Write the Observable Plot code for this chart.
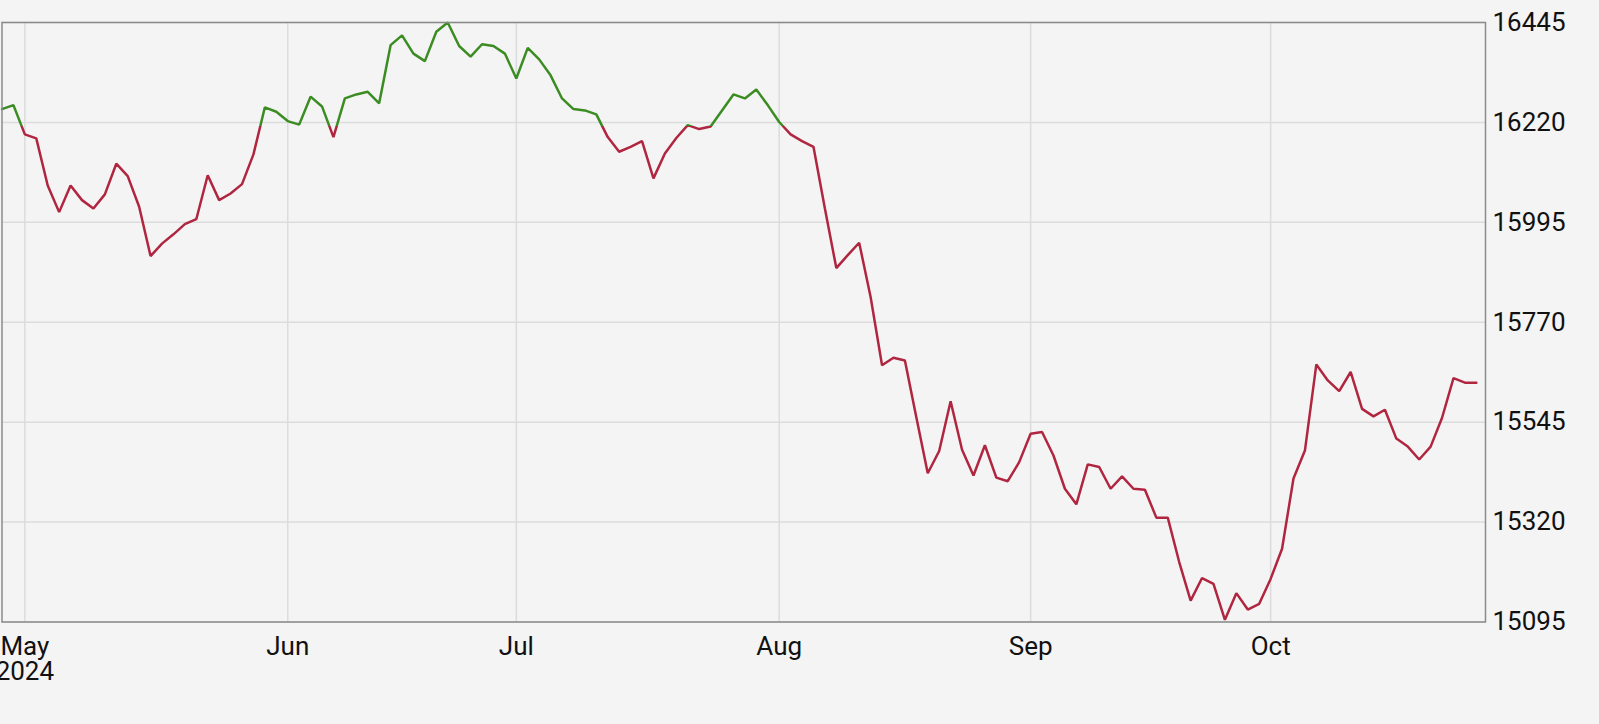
<!DOCTYPE html>
<html>
<head>
<meta charset="utf-8">
<script src="https://cdn.jsdelivr.net/npm/d3@7"></script>
<script src="https://cdn.jsdelivr.net/npm/@observablehq/plot@0.6"></script>
<style>
  html, body { margin: 0; padding: 0; background: #f4f4f4; }
  #chart { width: 1599px; height: 724px; overflow: hidden; }
</style>
</head>
<body>
<div id="chart"></div>
<script>
// Daily closes (trading days from Apr 29, 2024 to Oct 25, 2024)
const values = [
  16250, 16259, 16193, 16184, 16078, 16018, 16078, 16045, 16026, 16058,
  16127, 16099, 16030, 15919, 15947, 15968, 15991, 16002, 16101, 16045,
  16060, 16081, 16148, 16254, 16244, 16223, 16215, 16278, 16256, 16187,
  16274, 16283, 16289, 16263, 16394, 16416, 16375, 16358, 16424, 16445,
  16392, 16368, 16396, 16392, 16375, 16319, 16388, 16362, 16326, 16274,
  16250, 16247, 16238, 16187, 16154, 16165, 16178, 16094, 16150, 16185,
  16214, 16205, 16211, 16247, 16283, 16274, 16294, 16259, 16221, 16193,
  16178, 16165, 16026, 15892, 15921, 15949, 15827, 15673, 15690, 15684,
  15556, 15430, 15480, 15592, 15483, 15425, 15493, 15420, 15412, 15455,
  15519, 15523, 15470, 15395, 15360, 15450, 15444, 15395, 15423, 15395,
  15393, 15330, 15330, 15230, 15143, 15194, 15181, 15100, 15160, 15123,
  15136, 15192, 15260, 15418, 15481, 15675, 15639, 15615, 15658, 15575,
  15558, 15573, 15508, 15490, 15461, 15490, 15555, 15644, 15634, 15634
];
// first trading day of each month (index into values) and its label
const monthTickIndex = [2, 25, 45, 68, 90, 111];
const monthTickLabels = ["May\n2024", "Jun", "Jul", "Aug", "Sep", "Oct"];
const yTicks = [15095, 15320, 15545, 15770, 15995, 16220, 16445];
const threshold = 16212;
const upColor = "#3b8c22";
const downColor = "#b02640";

const data = values.map((v, i) => ({i, v}));

function gradientDefs(index, scales, values, dimensions) {
  const ns = "http://www.w3.org/2000/svg";
  const g = document.createElementNS(ns, "g");
  const defs = document.createElementNS(ns, "defs");
  const lg = document.createElementNS(ns, "linearGradient");
  lg.setAttribute("id", "lineGrad");
  lg.setAttribute("gradientUnits", "userSpaceOnUse");
  const top = dimensions.marginTop;
  const bottom = dimensions.height - dimensions.marginBottom;
  lg.setAttribute("x1", 0); lg.setAttribute("x2", 0);
  lg.setAttribute("y1", top); lg.setAttribute("y2", bottom);
  const yt = scales.y(threshold);
  const off = Math.max(0, Math.min(1, (yt - top) / (bottom - top)));
  [[0, upColor], [off, upColor], [off, downColor], [1, downColor]].forEach(([o, c]) => {
    const s = document.createElementNS(ns, "stop");
    s.setAttribute("offset", o);
    s.setAttribute("stop-color", c);
    lg.appendChild(s);
  });
  defs.appendChild(lg);
  g.appendChild(defs);
  return g;
}

const plot = Plot.plot({
  width: 1599,
  height: 724,
  marginTop: 22,
  marginBottom: 102.5,
  marginLeft: 1.5,
  marginRight: 114,
  style: {background: "#f4f4f4", fontFamily: "Roboto, sans-serif", fontSize: "26px", color: "#111"},
  x: {domain: [0, 129.8]},
  y: {domain: [15095, 16445]},
  marks: [
    Plot.gridY(yTicks, {stroke: "#dcdcdc", strokeOpacity: 1, strokeWidth: 1.5}),
    Plot.gridX(monthTickIndex, {stroke: "#dcdcdc", strokeOpacity: 1, strokeWidth: 1.5}),
    Plot.axisY(yTicks, {anchor: "right", tickSize: 0, tickPadding: 7, fontSize: 26, label: null, fill: "#111", tickFormat: d => String(d)}),
    Plot.axisX(monthTickIndex, {anchor: "bottom", tickSize: 0, tickPadding: 15, fontSize: 26, lineHeight: 0.97, label: null, fill: "#111",
      tickFormat: d => monthTickLabels[monthTickIndex.indexOf(d)]}),
    gradientDefs,
    Plot.line(data, {x: "i", y: "v", stroke: "url(#lineGrad)", strokeWidth: 2.5, strokeLinejoin: "miter"}),
    Plot.frame({stroke: "#8a8a8a", strokeWidth: 1.5})
  ]
});
document.getElementById("chart").appendChild(plot);
</script>
</body>
</html>
